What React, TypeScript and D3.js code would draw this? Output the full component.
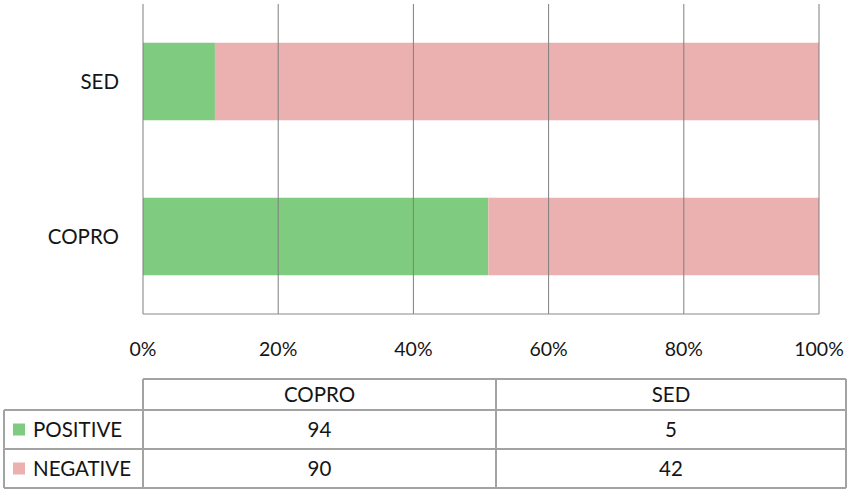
import React from "react";
import * as d3 from "d3";

const categories = ["SED", "COPRO"];
const seriesNames = ["POSITIVE", "NEGATIVE"];
const positive = [5, 94];
const negative = [42, 90];
const tableColumns = ["COPRO", "SED"];
const xTicks = [0, 0.2, 0.4, 0.6, 0.8, 1];
const colors = ["#7fcb7f", "#ebb0b0"];

const W = 851;
const H = 493;
const FONT = "Lato, 'Open Sans', sans-serif";
const TXT = "#151515";

export default function App() {
  const x = d3.scaleLinear().domain([0, 1]).range([143, 819]);
  const y = d3.scaleBand().domain(categories).range([4, 314]).paddingInner(0.5).paddingOuter(0.25);

  const rows = categories.map((c, i) => ({ cat: c, POSITIVE: positive[i], NEGATIVE: negative[i] }));
  const stacked = d3.stack<any>().keys(seriesNames).offset(d3.stackOffsetExpand)(rows);

  const valueOf = (s: string, col: string) => {
    const idx = categories.indexOf(col);
    return s === "POSITIVE" ? positive[idx] : negative[idx];
  };

  const tTop = 379, tHead = 410, tR1 = 449, tBot = 488;
  const tLeft = 4, tC1 = 143, tC2 = 496, tRight = 846;
  const colX = [tC1, tC2, tRight];
  const rowY = [tHead, tR1, tBot];
  const border = "#a3a3a3";

  return (
    <svg width={W} height={H} style={{ position: "absolute", left: 0, top: 0, background: "#fff" }} fontFamily={FONT}>
      {stacked.map((layer, li) =>
        layer.map((d, i) => (
          <rect
            key={`${li}-${i}`}
            x={x(d[0])}
            width={x(d[1]) - x(d[0])}
            y={y(rows[i].cat)!}
            height={y.bandwidth()}
            fill={colors[li]}
          />
        ))
      )}
      {xTicks.map((t) => (
        <line key={t} x1={x(t)} x2={x(t)} y1={4} y2={314} stroke="#7f7f7f" strokeWidth={1} />
      ))}
      <line x1={x(0)} x2={x(1)} y1={314} y2={314} stroke="#8a8a8a" strokeWidth={1.2} />
      {xTicks.map((t) => (
        <text key={"t" + t} x={x(t)} y={356} textAnchor="middle" fontSize={19.5} fill={TXT}>
          {d3.format(".0%")(t)}
        </text>
      ))}
      {categories.map((c) => (
        <text key={c} x={119} y={y(c)! + y.bandwidth() / 2 + 7} textAnchor="end" fontSize={20.5} fill={TXT}>
          {c}
        </text>
      ))}
      {/* table */}
      <g stroke={border} strokeWidth={2} fill="none">
        <line x1={tC1} x2={tRight} y1={tTop} y2={tTop} />
        <line x1={tLeft} x2={tRight} y1={tHead} y2={tHead} />
        <line x1={tLeft} x2={tRight} y1={tR1} y2={tR1} />
        <line x1={tLeft} x2={tRight} y1={tBot} y2={tBot} />
        <line x1={tLeft} x2={tLeft} y1={tHead} y2={tBot} />
        <line x1={tC1} x2={tC1} y1={tTop} y2={tBot} />
        <line x1={tC2} x2={tC2} y1={tTop} y2={tBot} />
        <line x1={tRight} x2={tRight} y1={tTop} y2={tBot} />
      </g>
      {tableColumns.map((c, ci) => (
        <text key={c} x={(colX[ci] + colX[ci + 1]) / 2} y={(tTop + tHead) / 2 + 7} textAnchor="middle" fontSize={20.5} fill={TXT}>
          {c}
        </text>
      ))}
      {seriesNames.map((s, si) => {
        const yc = (rowY[si] + rowY[si + 1]) / 2;
        return (
          <g key={s}>
            <rect x={13} y={yc - 6} width={12} height={12} fill={colors[si]} />
            <text x={33} y={yc + 7} fontSize={20.5} fill={TXT}>
              {s}
            </text>
            {tableColumns.map((c, ci) => (
              <text key={c} x={(colX[ci] + colX[ci + 1]) / 2} y={yc + 7} textAnchor="middle" fontSize={20.5} fill={TXT}>
                {valueOf(s, c)}
              </text>
            ))}
          </g>
        );
      })}
    </svg>
  );
}
